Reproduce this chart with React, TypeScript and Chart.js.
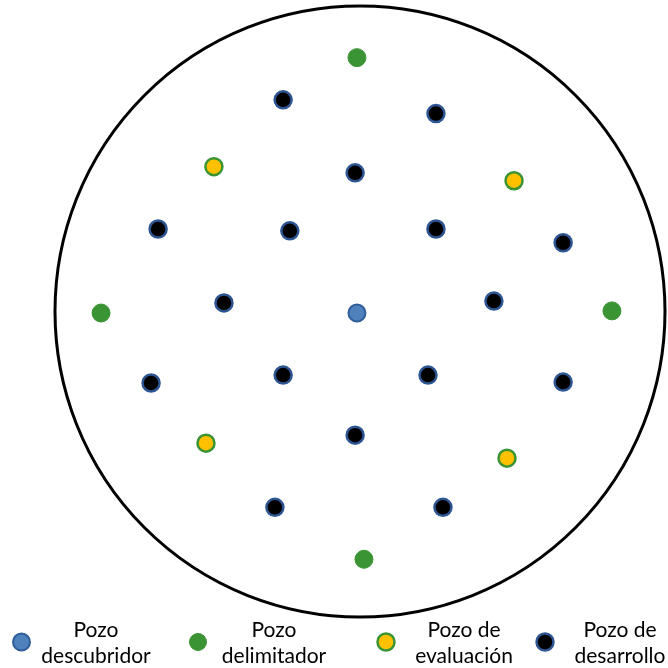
import React, { useEffect, useRef } from "react";
import { Chart, registerables } from "chart.js";

Chart.register(...registerables);

// Well positions (field units, centre of the field = 0,0; field radius = 10)
const fieldRadius = 10;

const descubridorX = [-0.1];
const descubridorY = [-0.05];

const delimitadorX = [-0.1, -8.49, 8.26, 0.13];
const delimitadorY = [8.31, -0.05, 0.02, -8.11];

const evaluacionX = [-4.79, 5.05, -5.05, 4.82];
const evaluacionY = [4.74, 4.28, -4.31, -4.8];

const desarrolloX = [-2.52, 2.49, -0.16, -6.62, -2.3, 2.49, 6.66, -4.46, 4.39, -6.85, -2.52, 2.23, 6.66, -0.16, -2.79, 2.72];
const desarrolloY = [6.93, 6.48, 4.54, 2.7, 2.64, 2.7, 2.25, 0.28, 0.34, -2.34, -2.08, -2.08, -2.31, -4.05, -6.41, -6.41];

const seriesNames = ["Pozo descubridor", "Pozo delimitador", "Pozo de evaluación", "Pozo de desarrollo"];
const legendLines = [
  ["Pozo", "descubridor"],
  ["Pozo", "delimitador"],
  ["Pozo de", "evaluación"],
  ["Pozo de", "desarrollo"],
];

const toPoints = (xs: number[], ys: number[]) => xs.map((x, i) => ({ x, y: ys[i] }));

const fieldPlugin = {
  id: "fieldCircle",
  beforeDatasetsDraw(chart: any) {
    const { ctx, scales } = chart;
    const cx = scales.x.getPixelForValue(0);
    const cy = scales.y.getPixelForValue(0);
    const rx = scales.x.getPixelForValue(fieldRadius) - cx;
    const ry = cy - scales.y.getPixelForValue(fieldRadius);
    ctx.save();
    ctx.beginPath();
    ctx.ellipse(cx, cy, rx, ry, 0, 0, Math.PI * 2);
    ctx.lineWidth = 3;
    ctx.strokeStyle = "#000";
    ctx.stroke();
    ctx.restore();
  },
};

const legendPlugin = {
  id: "wellLegend",
  afterDraw(chart: any) {
    const { ctx } = chart;
    const markerX = [21.5, 198, 386, 545];
    const textX = [96, 274, 464, 620];
    const markerY = 642;
    ctx.save();
    chart.data.datasets.forEach((ds: any, i: number) => {
      ctx.beginPath();
      ctx.arc(markerX[i], markerY, 8.5, 0, Math.PI * 2);
      ctx.fillStyle = ds.backgroundColor;
      ctx.fill();
      ctx.lineWidth = ds.borderWidth;
      ctx.strokeStyle = ds.borderColor;
      ctx.stroke();
      ctx.fillStyle = "#000";
      ctx.font = "21px Lato, 'Liberation Sans', sans-serif";
      ctx.textAlign = "center";
      ctx.textBaseline = "middle";
      ctx.fillText(legendLines[i][0], textX[i], 630);
      ctx.fillText(legendLines[i][1], textX[i], 656);
    });
    ctx.restore();
  },
};

export default function App() {
  const ref = useRef<HTMLCanvasElement>(null);
  useEffect(() => {
    if (!ref.current) return;
    const chart = new Chart(ref.current, {
      type: "scatter",
      data: {
        datasets: [
          {
            label: seriesNames[0],
            data: toPoints(descubridorX, descubridorY),
            backgroundColor: "#4F81BD",
            borderColor: "#2F5E9A",
            borderWidth: 2,
            pointRadius: 8.5,
          },
          {
            label: seriesNames[1],
            data: toPoints(delimitadorX, delimitadorY),
            backgroundColor: "#3A9434",
            borderColor: "#3A9434",
            borderWidth: 1,
            pointRadius: 9,
          },
          {
            label: seriesNames[2],
            data: toPoints(evaluacionX, evaluacionY),
            backgroundColor: "#FFC000",
            borderColor: "#3A9434",
            borderWidth: 2.5,
            pointRadius: 8.5,
          },
          {
            label: seriesNames[3],
            data: toPoints(desarrolloX, desarrolloY),
            backgroundColor: "#000000",
            borderColor: "#2D5592",
            borderWidth: 2.5,
            pointRadius: 8.5,
          },
        ],
      },
      options: {
        animation: false,
        responsive: true,
        maintainAspectRatio: false,
        layout: { autoPadding: false, padding: { left: 55, right: 3, top: 6, bottom: 51 } },
        plugins: { legend: { display: false }, tooltip: { enabled: false } },
        scales: {
          x: { type: "linear", min: -fieldRadius, max: fieldRadius, display: false },
          y: { type: "linear", min: -fieldRadius, max: fieldRadius, display: false },
        },
      },
      plugins: [fieldPlugin, legendPlugin],
    });
    return () => chart.destroy();
  }, []);
  return (
    <div style={{ position: "fixed", left: 0, top: 0, width: 668, height: 668, background: "#fff" }}>
      <canvas ref={ref} />
    </div>
  );
}
